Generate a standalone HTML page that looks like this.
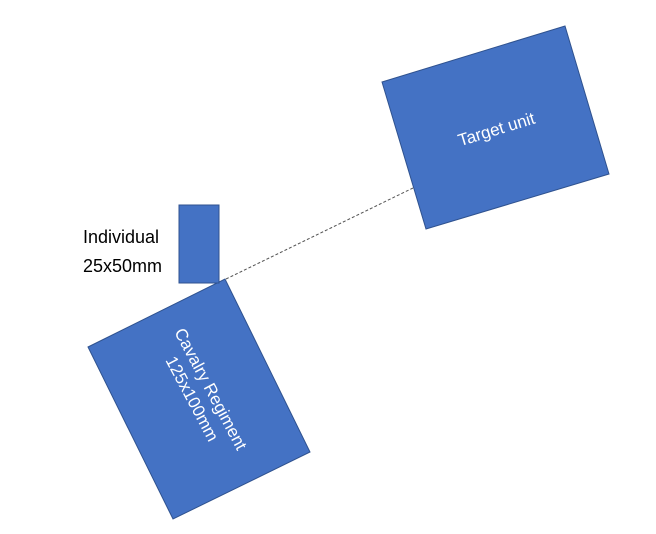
<!DOCTYPE html>
<html><head><style>body{margin:0;background:#fff}</style></head><body>
<svg width="656" height="534" xmlns="http://www.w3.org/2000/svg" style="display:block">
<polygon points="382,82 565,26 609,174 426,229" fill="#4472C4" stroke="#2F528F" stroke-width="1"/>
<polygon points="88,347 225,279 310,452 173,519" fill="#4472C4" stroke="#2F528F" stroke-width="1"/>
<rect x="179" y="205" width="40" height="78" fill="#4472C4" stroke="#2F528F" stroke-width="1"/>
<line x1="226" y1="279" x2="413" y2="188" stroke="#555" stroke-width="1" stroke-dasharray="3,2"/>
<text x="496" y="135" fill="#fff" font-family="Liberation Sans, sans-serif" font-size="17" text-anchor="middle" transform="rotate(-17 496 128)">Target unit</text>
<g transform="translate(203,393) rotate(62)" fill="#fff" font-family="Liberation Sans, sans-serif" font-size="17" text-anchor="middle">
<text x="0" y="-3">Cavalry Regiment</text>
<text x="0" y="18">125x100mm</text>
</g>
<text x="83" y="243" fill="#000" font-family="Liberation Sans, sans-serif" font-size="18">Individual</text>
<text x="83" y="272" fill="#000" font-family="Liberation Sans, sans-serif" font-size="18">25x50mm</text>
</svg>
</body></html>
